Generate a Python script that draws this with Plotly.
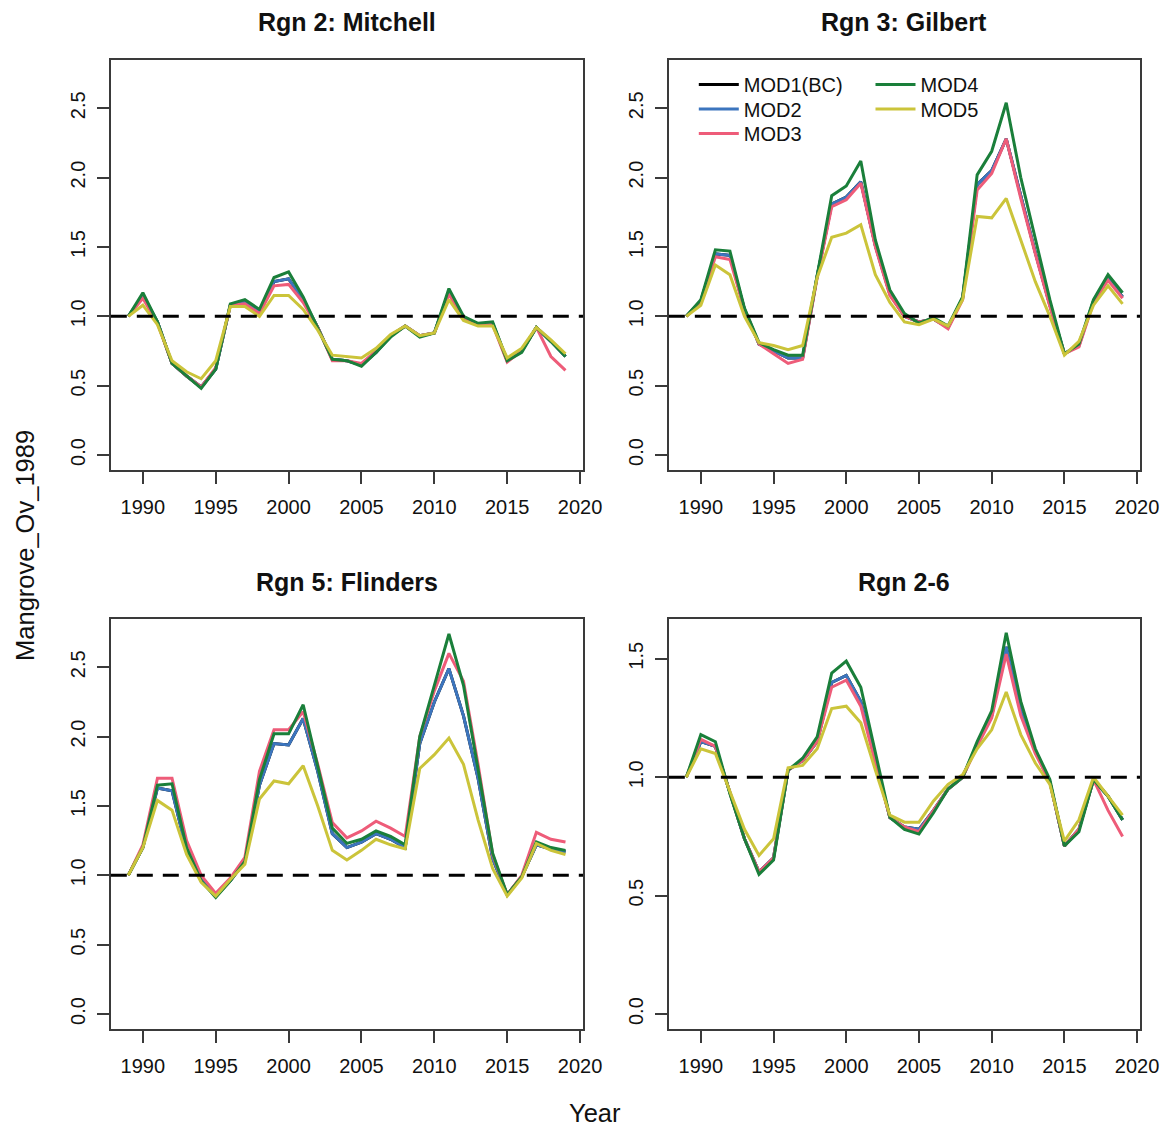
import plotly.graph_objects as go

# ---- data -------------------------------------------------------------
years = list(range(1989, 2020))

panel_titles = ["Rgn 2: Mitchell", "Rgn 3: Gilbert", "Rgn 5: Flinders", "Rgn 2-6"]
model_names = ["MOD1(BC)", "MOD2", "MOD3", "MOD4", "MOD5"]
model_colors = ["#000000", "#3C75BE", "#EE5C79", "#1A7F3A", "#CBC43A"]

mitchell_mod1 = [1.00, 1.15, 0.96, 0.66, 0.57, 0.49, 0.62, 1.08, 1.10, 1.03, 1.25, 1.27, 1.12, 0.92, 0.69, 0.68,
                 0.65, 0.74, 0.86, 0.93, 0.86, 0.88, 1.18, 0.99, 0.94, 0.95, 0.68, 0.75, 0.92, 0.82, 0.71]
mitchell_mod2 = [1.00, 1.15, 0.96, 0.66, 0.57, 0.49, 0.62, 1.08, 1.10, 1.03, 1.25, 1.27, 1.12, 0.92, 0.69, 0.68,
                 0.65, 0.74, 0.86, 0.93, 0.86, 0.88, 1.18, 0.99, 0.94, 0.95, 0.68, 0.75, 0.92, 0.82, 0.71]
mitchell_mod3 = [1.00, 1.13, 0.95, 0.66, 0.57, 0.49, 0.63, 1.08, 1.09, 1.02, 1.22, 1.23, 1.10, 0.92, 0.68, 0.68,
                 0.66, 0.75, 0.86, 0.93, 0.86, 0.88, 1.16, 0.98, 0.94, 0.94, 0.67, 0.75, 0.92, 0.71, 0.61]
mitchell_mod4 = [1.00, 1.17, 0.96, 0.66, 0.57, 0.48, 0.62, 1.09, 1.12, 1.05, 1.28, 1.32, 1.14, 0.92, 0.69, 0.68,
                 0.64, 0.74, 0.85, 0.93, 0.85, 0.88, 1.20, 1.00, 0.95, 0.96, 0.68, 0.74, 0.92, 0.82, 0.71]
mitchell_mod5 = [1.00, 1.08, 0.94, 0.68, 0.60, 0.55, 0.68, 1.07, 1.07, 1.00, 1.15, 1.15, 1.05, 0.90, 0.72, 0.71,
                 0.70, 0.77, 0.87, 0.93, 0.86, 0.88, 1.12, 0.97, 0.93, 0.93, 0.70, 0.77, 0.92, 0.83, 0.73]

gilbert_mod1 = [1.00, 1.11, 1.45, 1.44, 1.05, 0.80, 0.75, 0.70, 0.70, 1.29, 1.81, 1.86, 1.97, 1.51, 1.16, 1.00,
                0.96, 0.98, 0.92, 1.13, 1.95, 2.05, 2.28, 1.86, 1.46, 1.08, 0.73, 0.79, 1.11, 1.27, 1.14]
gilbert_mod2 = [1.00, 1.11, 1.45, 1.44, 1.05, 0.80, 0.75, 0.70, 0.70, 1.29, 1.81, 1.86, 1.97, 1.51, 1.16, 1.00,
                0.96, 0.98, 0.92, 1.13, 1.95, 2.05, 2.28, 1.86, 1.46, 1.08, 0.73, 0.79, 1.11, 1.27, 1.14]
gilbert_mod3 = [1.00, 1.10, 1.43, 1.41, 1.05, 0.80, 0.73, 0.66, 0.69, 1.28, 1.79, 1.84, 1.96, 1.50, 1.15, 1.00,
                0.96, 0.98, 0.91, 1.12, 1.91, 2.03, 2.28, 1.85, 1.45, 1.07, 0.73, 0.78, 1.10, 1.26, 1.13]
gilbert_mod4 = [1.00, 1.12, 1.48, 1.47, 1.06, 0.81, 0.76, 0.72, 0.72, 1.30, 1.87, 1.94, 2.12, 1.55, 1.19, 1.02,
                0.95, 0.99, 0.93, 1.14, 2.02, 2.19, 2.54, 2.00, 1.55, 1.12, 0.73, 0.80, 1.12, 1.30, 1.17]
gilbert_mod5 = [1.00, 1.08, 1.37, 1.30, 1.00, 0.81, 0.79, 0.76, 0.79, 1.28, 1.57, 1.60, 1.66, 1.30, 1.10, 0.96,
                0.94, 0.98, 0.93, 1.12, 1.72, 1.71, 1.85, 1.55, 1.25, 1.00, 0.72, 0.82, 1.08, 1.22, 1.09]

flinders_mod1 = [1.00, 1.20, 1.63, 1.61, 1.18, 0.97, 0.85, 0.96, 1.10, 1.65, 1.95, 1.94, 2.13, 1.75, 1.30, 1.20,
                 1.24, 1.30, 1.26, 1.20, 1.95, 2.25, 2.49, 2.15, 1.70, 1.12, 0.86, 0.99, 1.22, 1.19, 1.17]
flinders_mod2 = [1.00, 1.20, 1.63, 1.61, 1.18, 0.97, 0.85, 0.96, 1.10, 1.65, 1.95, 1.94, 2.13, 1.75, 1.30, 1.20,
                 1.24, 1.30, 1.26, 1.20, 1.95, 2.25, 2.49, 2.15, 1.70, 1.12, 0.86, 0.99, 1.22, 1.19, 1.17]
flinders_mod3 = [1.00, 1.22, 1.70, 1.70, 1.25, 1.00, 0.87, 0.98, 1.13, 1.75, 2.05, 2.05, 2.18, 1.80, 1.38, 1.27,
                 1.32, 1.39, 1.34, 1.28, 2.00, 2.33, 2.60, 2.40, 1.80, 1.15, 0.86, 1.00, 1.31, 1.26, 1.24]
flinders_mod4 = [1.00, 1.20, 1.65, 1.66, 1.20, 0.96, 0.84, 0.96, 1.10, 1.69, 2.02, 2.02, 2.23, 1.78, 1.34, 1.23,
                 1.26, 1.32, 1.28, 1.22, 2.00, 2.37, 2.74, 2.37, 1.78, 1.16, 0.86, 0.99, 1.24, 1.20, 1.18]
flinders_mod5 = [1.00, 1.20, 1.54, 1.47, 1.15, 0.95, 0.85, 0.97, 1.08, 1.55, 1.68, 1.66, 1.79, 1.50, 1.18, 1.11,
                 1.18, 1.26, 1.22, 1.19, 1.77, 1.87, 1.99, 1.80, 1.40, 1.05, 0.85, 0.98, 1.23, 1.18, 1.15]

rgn26_mod1 = [1.00, 1.15, 1.13, 0.93, 0.74, 0.60, 0.66, 1.03, 1.07, 1.15, 1.40, 1.43, 1.32, 1.07, 0.83, 0.79,
              0.78, 0.86, 0.95, 1.00, 1.14, 1.26, 1.55, 1.28, 1.11, 0.98, 0.71, 0.78, 0.99, 0.92, 0.82]
rgn26_mod2 = [1.00, 1.15, 1.13, 0.93, 0.74, 0.60, 0.66, 1.03, 1.07, 1.15, 1.40, 1.43, 1.32, 1.07, 0.83, 0.79,
              0.78, 0.86, 0.95, 1.00, 1.14, 1.26, 1.55, 1.28, 1.11, 0.98, 0.71, 0.78, 0.99, 0.92, 0.82]
rgn26_mod3 = [1.00, 1.16, 1.13, 0.93, 0.74, 0.60, 0.66, 1.03, 1.07, 1.15, 1.38, 1.41, 1.30, 1.06, 0.83, 0.79,
              0.77, 0.86, 0.95, 1.00, 1.13, 1.25, 1.52, 1.26, 1.10, 0.98, 0.71, 0.78, 0.99, 0.86, 0.75]
rgn26_mod4 = [1.00, 1.18, 1.15, 0.93, 0.74, 0.59, 0.65, 1.03, 1.08, 1.17, 1.44, 1.49, 1.38, 1.10, 0.83, 0.78,
              0.76, 0.85, 0.95, 1.00, 1.15, 1.28, 1.61, 1.32, 1.12, 0.99, 0.71, 0.77, 0.99, 0.92, 0.82]
rgn26_mod5 = [1.00, 1.12, 1.10, 0.94, 0.78, 0.67, 0.74, 1.04, 1.05, 1.12, 1.29, 1.30, 1.23, 1.03, 0.84, 0.81,
              0.81, 0.90, 0.97, 1.01, 1.12, 1.20, 1.36, 1.18, 1.06, 0.97, 0.73, 0.82, 1.00, 0.92, 0.84]

x_ticks = [1990, 1995, 2000, 2005, 2010, 2015, 2020]
y_ticks_wide = [0.0, 0.5, 1.0, 1.5, 2.0, 2.5]
y_ticks_narrow = [0.0, 0.5, 1.0, 1.5]
baseline = 1.0

panels = [
    [mitchell_mod1, mitchell_mod2, mitchell_mod3, mitchell_mod4, mitchell_mod5],
    [gilbert_mod1, gilbert_mod2, gilbert_mod3, gilbert_mod4, gilbert_mod5],
    [flinders_mod1, flinders_mod2, flinders_mod3, flinders_mod4, flinders_mod5],
    [rgn26_mod1, rgn26_mod2, rgn26_mod3, rgn26_mod4, rgn26_mod5],
]

# ---- layout geometry --------------------------------------------------
W, H = 1174, 1131
PW = 1157  # horizontal extent of the drawing surface, in px
FONT = "Liberation Sans, Arial, sans-serif"
col_px = [(111, 584), (670, 1142)]
row_px = [(60, 470), (619, 1029)]
y_ranges = [[-0.108, 2.848], [-0.108, 2.848], [-0.108, 2.848], [-0.063, 1.668]]
y_ticks = [y_ticks_wide, y_ticks_wide, y_ticks_wide, y_ticks_narrow]

# one legend per entry so the key can be laid out in two columns (top-down)
legend_ids = ["legend", "legend2", "legend3", "legend4", "legend5"]
legend_pos_px = [(695, 65), (695, 89.5), (695, 114), (872, 65), (872, 89.5)]

fig = go.Figure()

for p, series in enumerate(panels):
    ax = "" if p == 0 else str(p + 1)
    for m, (name, color, vals) in enumerate(zip(model_names, model_colors, series)):
        fig.add_trace(go.Scatter(
            x=years, y=vals, mode="lines", name=name,
            line=dict(color=color, width=3),
            xaxis="x" + ax, yaxis="y" + ax,
            showlegend=(p == 1),
            legend=legend_ids[m],
            hoverinfo="skip",
        ))
    # reference line at the 1989 level
    fig.add_shape(type="line", xref="x" + ax + " domain", yref="y" + ax,
                  x0=0, x1=1, y0=baseline, y1=baseline,
                  line=dict(color="black", width=3, dash="16px,10px"), layer="above")

axis_common = dict(
    showline=True, mirror=True, linecolor="#3a3a3a", linewidth=2,
    ticks="outside", ticklen=12, tickwidth=1.6, tickcolor="#3a3a3a",
    showgrid=False, zeroline=False,
    tickfont=dict(family=FONT, size=20, color="#111"),
)

layout = dict(
    width=W, height=H, autosize=False, margin=dict(l=0, r=0, t=0, b=0, pad=0),
    paper_bgcolor="white", plot_bgcolor="white",
    font=dict(family=FONT, color="#111"),
)

for p in range(4):
    r, c = divmod(p, 2)
    ax = "" if p == 0 else str(p + 1)
    x0, x1 = col_px[c]
    y0, y1 = row_px[r]
    layout["xaxis" + ax] = dict(
        axis_common, domain=[x0 / PW, x1 / PW], anchor="y" + ax,
        range=[1987.8, 2020.2], tickvals=x_ticks, ticklabelstandoff=6,
    )
    layout["yaxis" + ax] = dict(
        axis_common, domain=[1 - y1 / H, 1 - y0 / H], anchor="x" + ax,
        range=y_ranges[p], tickvals=y_ticks[p], tickformat=".1f",
        tickangle=-90, ticklabelstandoff=4,
    )

legend_style = dict(
    font=dict(family=FONT, size=20, color="#111"),
    bgcolor="rgba(0,0,0,0)", borderwidth=0,
    xanchor="left", yanchor="top", itemwidth=40, tracegroupgap=0,
    itemclick=False, itemdoubleclick=False,
)
for lid, (lx, ly) in zip(legend_ids, legend_pos_px):
    layout[lid] = dict(legend_style, x=lx / PW, y=1 - ly / H)

fig.update_layout(**layout)

# panel titles
title_pos = [(347.5, 22), (906, 22), (347.5, 582), (906, 582)]
for title, (tx, ty) in zip(panel_titles, title_pos):
    fig.add_annotation(text="<b>" + title + "</b>", x=tx / PW, y=1 - ty / H,
                       xref="paper", yref="paper", showarrow=False,
                       xanchor="center", yanchor="middle",
                       font=dict(family=FONT, size=25, color="#111"))

# shared axis titles
fig.add_annotation(text="Mangrove_Ov_1989", x=25 / PW, y=1 - 545 / H, xref="paper", yref="paper",
                   showarrow=False, textangle=-90, xanchor="center", yanchor="middle",
                   font=dict(family=FONT, size=25.5, color="#111"))
fig.add_annotation(text="Year", x=596 / PW, y=1 - 1113 / H, xref="paper", yref="paper",
                   showarrow=False, xanchor="center", yanchor="middle",
                   font=dict(family=FONT, size=25.5, color="#111"))

fig.write_html(
    "out.html",
    config={"responsive": False, "displayModeBar": False},
    post_script="document.body.style.margin='0';document.body.style.overflow='hidden';",
)
